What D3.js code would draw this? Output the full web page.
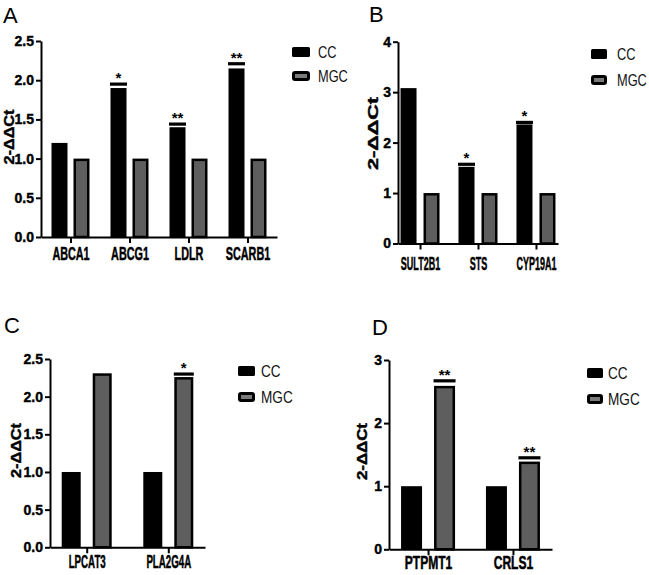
<!DOCTYPE html>
<html>
<head>
<meta charset="utf-8">
<script src="https://cdn.jsdelivr.net/npm/d3@7/dist/d3.min.js"></script>
<style>
  body { margin: 0; background: #fff; }
</style>
</head>
<body>
<svg width="649" height="575"></svg>
<script>
const SERIES = ['CC', 'MGC'];

// panel A: cholesterol transport genes
const genesA = ['ABCA1', 'ABCG1', 'LDLR', 'SCARB1'];
const ccA = [1.2, 1.9, 1.4, 2.15];
const mgcA = [1, 1, 1, 1];
const errA = [null, 1.95, 1.44, 2.21];
const starsA = ['', '*', '**', '**'];
const ticksA = [0, 0.5, 1, 1.5, 2, 2.5];

// panel B: steroid genes
const genesB = ['SULT2B1', 'STS', 'CYP19A1'];
const ccB = [3.08, 1.52, 2.36];
const mgcB = [1, 1, 1];
const errB = [null, 1.57, 2.4];
const starsB = ['', '*', '*'];
const ticksB = [0, 1, 2, 3, 4];

// panel C: phospholipid genes
const genesC = ['LPCAT3', 'PLA2G4A'];
const ccC = [1, 1];
const mgcC = [2.31, 2.26];
const errC = [null, 2.3];
const starsC = ['', '*'];
const ticksC = [0, 0.5, 1, 1.5, 2, 2.5];

// panel D: cardiolipin genes
const genesD = ['PTPMT1', 'CRLS1'];
const ccD = [1, 1];
const mgcD = [2.59, 1.39];
const errD = [2.67, 1.45];
const starsD = ['**', '**'];
const ticksD = [0, 1, 2, 3];

const svg = d3.select('svg');
const GREY = '#5e5e5e';
const SANS = '"Liberation Sans", Arial, sans-serif';

function drawPanel(p) {
  const g = svg.append('g');

  const y = d3.scaleLinear()
    .domain([0, d3.max(p.ticks)])
    .range([p.bottom, p.top]);
  const x = d3.scalePoint()
    .domain(p.genes)
    .range([p.left, p.right])
    .padding(p.pad);
  // bars inside each gene group
  const inner = d3.scaleBand()
    .domain(SERIES)
    .range([-(p.bw + p.gap / 2), p.bw + p.gap / 2])
    .paddingInner(p.gap / (p.bw + p.gap));

  const rows = [];
  p.genes.forEach((gene, i) => {
    rows.push({ gene, s: 'CC', v: p.cc[i] });
    rows.push({ gene, s: 'MGC', v: p.mgc[i] });
  });

  const sw = 2.5;
  g.selectAll('.bar')
    .data(rows)
    .enter()
    .append('rect')
    .attr('class', 'bar')
    .attr('x', d => x(d.gene) + inner(d.s) + (d.s === 'MGC' ? sw / 2 : 0))
    .attr('y', d => y(d.v) + (d.s === 'MGC' ? sw / 2 : 0))
    .attr('width', d => inner.bandwidth() - (d.s === 'MGC' ? sw : 0))
    .attr('height', d => y(0) - y(d.v) - (d.s === 'MGC' ? sw / 2 : 0))
    .style('fill', d => (d.s === 'CC' ? '#000' : GREY))
    .style('stroke', d => (d.s === 'MGC' ? '#000' : 'none'))
    .style('stroke-width', sw);

  // SD caps + significance stars
  const caps = p.genes
    .map((gene, i) => ({ gene, e: p.err[i], star: p.stars[i] }))
    .filter(d => d.e != null);

  g.selectAll('.cap')
    .data(caps)
    .enter()
    .append('rect')
    .attr('class', 'cap')
    .attr('x', d => x(d.gene) + inner(p.errOn) - 0.5)
    .attr('y', d => y(d.e) - 1.6)
    .attr('width', inner.bandwidth() + 1)
    .attr('height', 3.2)
    .style('fill', '#000');

  g.selectAll('.star')
    .data(caps)
    .enter()
    .append('text')
    .attr('class', 'star')
    .attr('x', d => x(d.gene) + inner(p.errOn) + inner.bandwidth() / 2)
    .attr('y', d => y(d.e) - 1)
    .style('font', 'bold 15px ' + SANS)
    .style('text-anchor', 'middle')
    .text(d => d.star);

  // axes
  const yAxis = g.append('g')
    .attr('transform', `translate(${p.left},0)`)
    .call(d3.axisLeft(y)
      .tickValues(p.ticks)
      .tickFormat(p.fmt)
      .tickSize(5)
      .tickSizeOuter(0)
      .tickPadding(2));
  yAxis.selectAll('text')
    .style('font', 'bold 14px ' + SANS)
    .style('fill', '#000')
    .style('stroke', '#000')
    .style('stroke-width', 0.4);

  const xAxis = g.append('g')
    .attr('transform', `translate(0,${p.bottom})`)
    .call(d3.axisBottom(x).tickSize(6).tickSizeOuter(0).tickPadding(p.xPad));
  xAxis.selectAll('text')
    .style('font', 'bold 18px ' + SANS)
    .style('fill', '#000')
    .style('stroke', '#000')
    .style('stroke-width', 0.5)
    .attr('transform', `scale(${p.xScale},1)`);

  g.selectAll('.domain, .tick line')
    .style('stroke', '#000')
    .style('stroke-width', 2);

  // y title
  g.append('text')
    .attr('transform', `translate(${p.titleX},${p.titleY}) rotate(-90)`)
    .attr('textLength', p.titleLen)
    .attr('lengthAdjust', 'spacingAndGlyphs')
    .style('font', 'bold 14px ' + SANS)
    .style('stroke', '#000')
    .style('stroke-width', 0.4)
    .style('text-anchor', 'middle')
    .text('2-ΔΔCt');

  // panel letter
  g.append('text')
    .attr('x', p.letterX)
    .attr('y', p.letterY)
    .style('font', '22px ' + SANS)
    .text(p.letter);

  // legend
  const lg = g.selectAll('.leg')
    .data(SERIES)
    .enter()
    .append('g')
    .attr('class', 'leg')
    .attr('transform', (d, i) => `translate(${p.legX},${p.legY + i * p.legDy})`);

  lg.append('rect')
    .attr('x', d => (d === 'MGC' ? 1.5 : 0))
    .attr('y', d => (d === 'MGC' ? 1.5 : 0))
    .attr('width', d => p.legW - (d === 'MGC' ? 3 : 0))
    .attr('height', d => 10 - (d === 'MGC' ? 3 : 0))
    .attr('rx', 1.5)
    .style('fill', d => (d === 'CC' ? '#000' : '#7a7a7a'))
    .style('stroke', d => (d === 'MGC' ? '#000' : 'none'))
    .style('stroke-width', 3);

  lg.append('text')
    .attr('transform', `translate(${p.legTx},5) scale(0.8,1)`)
    .attr('dy', '0.36em')
    .style('font', `${p.legFs}px ` + SANS)
    .style('fill', '#111')
    .text(d => d);
}

drawPanel({
  letter: 'A', letterX: 3, letterY: 23,
  genes: genesA, cc: ccA, mgc: mgcA, err: errA, stars: starsA, errOn: 'CC',
  ticks: ticksA, fmt: d3.format('.1f'),
  left: 41, right: 277, top: 41, bottom: 237, pad: 0.5,
  bw: 16, gap: 6, xPad: 4, xScale: 0.6,
  titleX: 13.5, titleY: 137, titleLen: 55,
  legX: 292, legY: 47, legDy: 24, legW: 18, legTx: 26, legFs: 16
});

drawPanel({
  letter: 'B', letterX: 369, letterY: 22,
  genes: genesB, cc: ccB, mgc: mgcB, err: errB, stars: starsB, errOn: 'CC',
  ticks: ticksB, fmt: d3.format('d'),
  left: 398, right: 558, top: 41.7, bottom: 243.5, pad: 0.38,
  bw: 16, gap: 7, xPad: 7.5, xScale: 0.5,
  titleX: 377.5, titleY: 133.5, titleLen: 73,
  legX: 591, legY: 49, legDy: 26, legW: 16, legTx: 26, legFs: 16
});

drawPanel({
  letter: 'C', letterX: 4, letterY: 333,
  genes: genesC, cc: ccC, mgc: mgcC, err: errC, stars: starsC, errOn: 'MGC',
  ticks: ticksC, fmt: d3.format('.1f'),
  left: 50, right: 205, top: 359, bottom: 547.3, pad: 0.45,
  bw: 19, gap: 12, xPad: 2, xScale: 0.54,
  titleX: 21, titleY: 450.5, titleLen: 55,
  legX: 238, legY: 366, legDy: 26, legW: 17, legTx: 23, legFs: 17
});

drawPanel({
  letter: 'D', letterX: 372, letterY: 335,
  genes: genesD, cc: ccD, mgc: mgcD, err: errD, stars: starsD, errOn: 'MGC',
  ticks: ticksD, fmt: d3.format('d'),
  left: 389, right: 552, top: 360, bottom: 549.3, pad: 0.46,
  bw: 21, gap: 12, xPad: 1, xScale: 0.67,
  titleX: 367, titleY: 451.5, titleLen: 57,
  legX: 587, legY: 368, legDy: 26, legW: 16, legTx: 21, legFs: 17
});
</script>
</body>
</html>
